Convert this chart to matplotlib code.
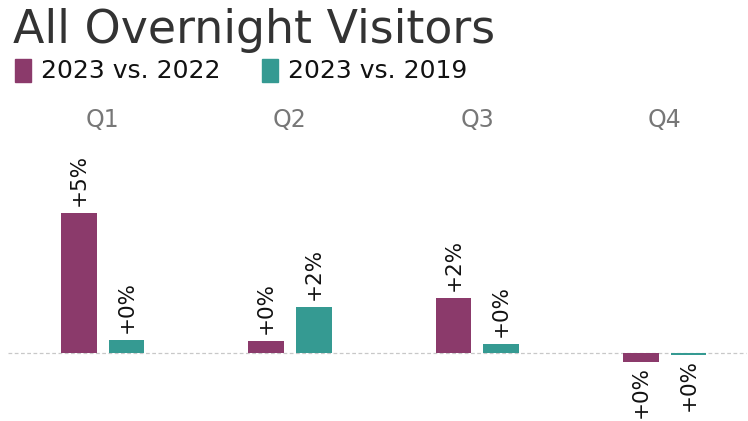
import matplotlib
matplotlib.use("Agg")
import matplotlib.pyplot as plt
import numpy as np
from matplotlib.patches import Rectangle

quarters = ["Q1", "Q2", "Q3", "Q4"]
series_names = ["2023 vs. 2022", "2023 vs. 2019"]
vs_2022 = [5.0, 0.42, 1.95, -0.32]
vs_2019 = [0.45, 1.65, 0.33, -0.07]
labels_2022 = ["+5%", "+0%", "+2%", "+0%"]
labels_2019 = ["+0%", "+2%", "+0%", "+0%"]
colors = ["#8B3A6B", "#359A92"]

W, H = 748, 421
L, GW = 9, 187.3
fig = plt.figure(figsize=(W/100, H/100), dpi=100)
ax = fig.add_axes([L/W, 0, 4*GW/W, 281/H])
ax.set_xlim(-0.5, 3.5)
ax.set_ylim(-(421-353)/28, (353-140)/28)
ax.axis("off")

x = np.arange(len(quarters))
bw = 0.19
off = 0.127
for vals, labs, col, sgn in [(vs_2022, labels_2022, colors[0], -1), (vs_2019, labels_2019, colors[1], 1)]:
    xs = x + sgn*off
    ax.bar(xs, vals, width=bw, color=col, zorder=2)
    for xi, v, lab in zip(xs, vals, labs):
        if v >= 0:
            ax.annotate(lab, (xi, v), xytext=(0, 7), textcoords="offset pixels",
                        rotation=90, ha="center", va="bottom", fontsize=15.5, color="#111111")
        else:
            ax.annotate(lab, (xi, v), xytext=(0, -4), textcoords="offset pixels",
                        rotation=90, ha="center", va="top", fontsize=15.5, color="#111111")

ax.plot([-0.5 - 1/GW, (746 - L)/GW - 0.5], [0, 0], color="#c8c8c8", lw=0.9,
        ls=(0, (3, 2)), zorder=1, clip_on=False)

for xi, q in zip(x, quarters):
    fig.text((L + (xi + 0.5)*GW)/W, 1 - 120/H, q, ha="center", va="center",
             fontsize=17, color="#777777")

fig.text(13/W, 1 - 43/H, "All Overnight Visitors", ha="left", va="baseline",
         fontsize=33, color="#333333")

# legend
for name, col, lx in zip(series_names, colors, [15, 262]):
    fig.patches.append(Rectangle((lx/W, 1 - 82/H), 16/W, 23/H, transform=fig.transFigure,
                                 color=col, figure=fig))
    fig.text((lx + 26)/W, 1 - 71/H, name, ha="left", va="center", fontsize=18, color="#111111")

fig.savefig("out.png", dpi=100)
